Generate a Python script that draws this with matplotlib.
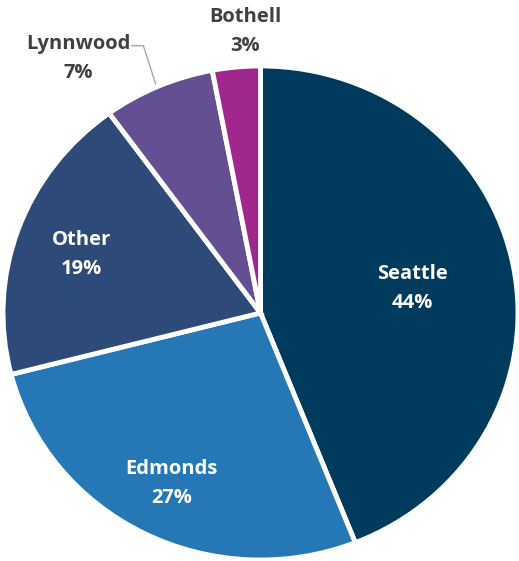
import numpy as np
import matplotlib.pyplot as plt

cities = ["Seattle", "Edmonds", "Other", "Lynnwood", "Bothell"]
shares = [44, 27, 19, 7, 3]
colors = ["#003a5c", "#2577b5", "#2e4a78", "#634f92", "#a0288c"]

plt.rcParams['font.family'] = ['Open Sans', 'DejaVu Sans']

fig = plt.figure(figsize=(5.19, 5.61), dpi=100)
ax = fig.add_axes([0, 0, 1, 1])

ax.pie(shares, colors=colors, startangle=90, counterclock=False,
       wedgeprops=dict(edgecolor="white", linewidth=3.5))
ax.set_aspect('auto')
ax.set_xlim(-1.0117, 1.0039)
ax.set_ylim(-1.004, 1.267)
ax.axis('off')

# mid angle of each slice
frac = np.array(shares) / sum(shares)
ends = np.cumsum(frac)
mids = 90 - 360 * (ends - frac / 2)

fs = 14.5
ls = 1.6
inside_r = {"Seattle": 0.60, "Edmonds": 0.76, "Other": 0.74}
for name, pct, ang in zip(cities, shares, mids):
    if name in inside_r:
        r = inside_r[name]
        x = r * np.cos(np.radians(ang))
        y = r * np.sin(np.radians(ang)) - 0.015
        ax.text(x, y, f"{name}\n{pct}%", ha="center", va="center", color="white",
                fontsize=fs, fontweight="bold", linespacing=ls)

# outside labels
ang_l = np.radians(mids[3])
ex, ey = np.cos(ang_l), np.sin(ang_l)
ax.plot([ex - 0.01, -0.455, -0.50], [ey + 0.01, 1.082, 1.082], color="#a6a6a6", lw=1)
ax.text(-0.709, 1.032, f"{cities[3]}\n{shares[3]}%", ha="center", va="center",
        color="#404040", fontsize=fs, fontweight="bold", linespacing=ls)
ax.text(-0.06, 1.138, f"{cities[4]}\n{shares[4]}%", ha="center", va="center",
        color="#404040", fontsize=fs, fontweight="bold", linespacing=ls)

fig.savefig("out.png", dpi=100)
